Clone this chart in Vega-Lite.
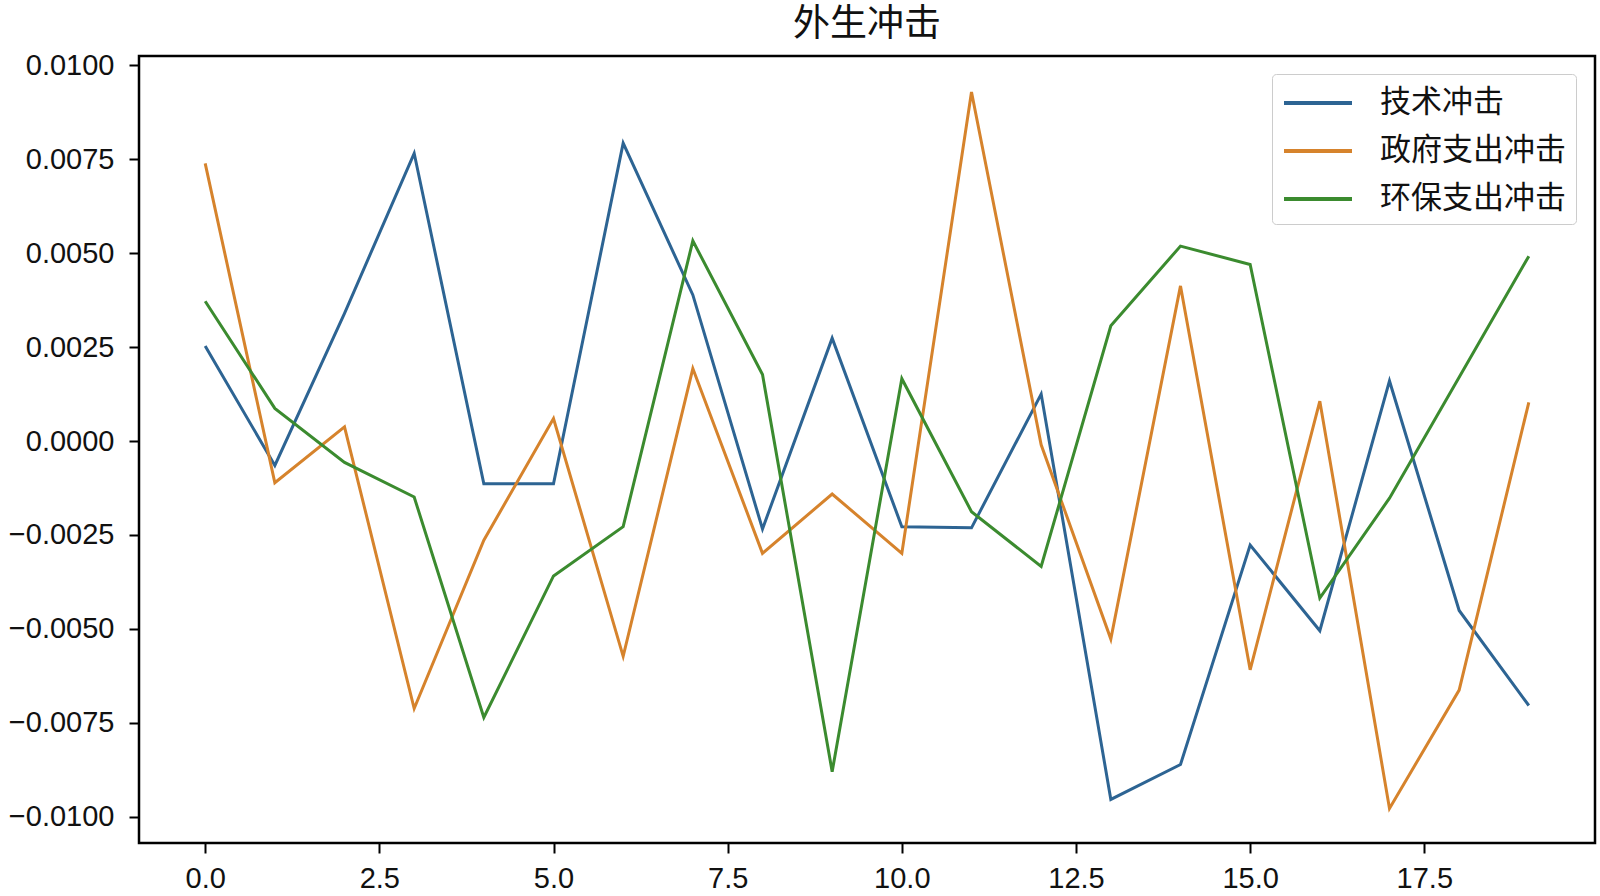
{
  "$schema": "https://vega.github.io/schema/vega-lite/v6.json",
  "autosize": {"type": "none"},
  "width": 1456,
  "height": 787,
  "padding": {"left": 139, "top": 56, "right": 5, "bottom": 53},
  "background": "white",
  "title": {"text": "外生冲击", "font": "Noto Sans CJK SC", "fontSize": 37, "fontWeight": "normal", "color": "#111", "anchor": "middle", "offset": 7},
  "config": {
    "view": {"stroke": "black", "strokeWidth": 2.5},
    "axis": {"domain": false, "grid": false, "tickColor": "black", "tickWidth": 2, "tickSize": 10, "labelColor": "#111", "labelFont": "Liberation Sans", "title": null}
  },
  "data": {"values": [
    {"t": 0, "series": "技术冲击", "value": 0.00253},
    {"t": 1, "series": "技术冲击", "value": -0.00065},
    {"t": 2, "series": "技术冲击", "value": 0.0034},
    {"t": 3, "series": "技术冲击", "value": 0.00766},
    {"t": 4, "series": "技术冲击", "value": -0.00114},
    {"t": 5, "series": "技术冲击", "value": -0.00114},
    {"t": 6, "series": "技术冲击", "value": 0.00793},
    {"t": 7, "series": "技术冲击", "value": 0.00389},
    {"t": 8, "series": "技术冲击", "value": -0.00234},
    {"t": 9, "series": "技术冲击", "value": 0.00274},
    {"t": 10, "series": "技术冲击", "value": -0.00228},
    {"t": 11, "series": "技术冲击", "value": -0.00231},
    {"t": 12, "series": "技术冲击", "value": 0.00125},
    {"t": 13, "series": "技术冲击", "value": -0.00954},
    {"t": 14, "series": "技术冲击", "value": -0.00861},
    {"t": 15, "series": "技术冲击", "value": -0.00277},
    {"t": 16, "series": "技术冲击", "value": -0.00505},
    {"t": 17, "series": "技术冲击", "value": 0.0016},
    {"t": 18, "series": "技术冲击", "value": -0.00451},
    {"t": 19, "series": "技术冲击", "value": -0.00704},
    {"t": 0, "series": "政府支出冲击", "value": 0.00739},
    {"t": 1, "series": "政府支出冲击", "value": -0.00111},
    {"t": 2, "series": "政府支出冲击", "value": 0.00038},
    {"t": 3, "series": "政府支出冲击", "value": -0.00712},
    {"t": 4, "series": "政府支出冲击", "value": -0.00264},
    {"t": 5, "series": "政府支出冲击", "value": 0.0006},
    {"t": 6, "series": "政府支出冲击", "value": -0.00573},
    {"t": 7, "series": "政府支出冲击", "value": 0.00193},
    {"t": 8, "series": "政府支出冲击", "value": -0.00299},
    {"t": 9, "series": "政府支出冲击", "value": -0.00141},
    {"t": 10, "series": "政府支出冲击", "value": -0.00299},
    {"t": 11, "series": "政府支出冲击", "value": 0.00929},
    {"t": 12, "series": "政府支出冲击", "value": -0.0001},
    {"t": 13, "series": "政府支出冲击", "value": -0.00527},
    {"t": 14, "series": "政府支出冲击", "value": 0.00413},
    {"t": 15, "series": "政府支出冲击", "value": -0.00609},
    {"t": 16, "series": "政府支出冲击", "value": 0.00106},
    {"t": 17, "series": "政府支出冲击", "value": -0.00978},
    {"t": 18, "series": "政府支出冲击", "value": -0.00663},
    {"t": 19, "series": "政府支出冲击", "value": 0.00103},
    {"t": 0, "series": "环保支出冲击", "value": 0.00372},
    {"t": 1, "series": "环保支出冲击", "value": 0.00087},
    {"t": 2, "series": "环保支出冲击", "value": -0.00057},
    {"t": 3, "series": "环保支出冲击", "value": -0.00149},
    {"t": 4, "series": "环保支出冲击", "value": -0.00736},
    {"t": 5, "series": "环保支出冲击", "value": -0.00359},
    {"t": 6, "series": "环保支出冲击", "value": -0.00228},
    {"t": 7, "series": "环保支出冲击", "value": 0.00533},
    {"t": 8, "series": "环保支出冲击", "value": 0.00177},
    {"t": 9, "series": "环保支出冲击", "value": -0.0088},
    {"t": 10, "series": "环保支出冲击", "value": 0.00166},
    {"t": 11, "series": "环保支出冲击", "value": -0.00188},
    {"t": 12, "series": "环保支出冲击", "value": -0.00334},
    {"t": 13, "series": "环保支出冲击", "value": 0.00307},
    {"t": 14, "series": "环保支出冲击", "value": 0.00519},
    {"t": 15, "series": "环保支出冲击", "value": 0.0047},
    {"t": 16, "series": "环保支出冲击", "value": -0.00418},
    {"t": 17, "series": "环保支出冲击", "value": -0.00152},
    {"t": 18, "series": "环保支出冲击", "value": 0.0017},
    {"t": 19, "series": "环保支出冲击", "value": 0.00492}
  ]},
  "mark": {"type": "line", "strokeWidth": 3, "clip": true},
  "encoding": {
    "x": {"field": "t", "type": "quantitative",
      "scale": {"domain": [-0.95, 19.95], "nice": false, "zero": false},
      "axis": {"values": [0, 2.5, 5, 7.5, 10, 12.5, 15, 17.5], "format": ".1f", "labelFontSize": 29, "labelPadding": 11}},
    "y": {"field": "value", "type": "quantitative",
      "scale": {"domain": [-0.0107, 0.01025], "nice": false, "zero": false},
      "axis": {"values": [-0.01, -0.0075, -0.005, -0.0025, 0, 0.0025, 0.005, 0.0075, 0.01], "format": ".4f", "labelFontSize": 29, "labelPadding": 15}},
    "color": {"field": "series", "type": "nominal",
      "scale": {"domain": ["技术冲击", "政府支出冲击", "环保支出冲击"], "range": ["#2d6493", "#d6832c", "#3b8b2f"]},
      "legend": {"title": null, "orient": "none", "legendX": 1133, "legendY": 18,
        "symbolType": "M-1,0H3", "symbolSize": 1156, "symbolStrokeWidth": 4, "symbolFillColor": "transparent",
        "labelFont": "Noto Sans CJK SC", "labelFontSize": 31, "labelColor": "#111", "labelOffset": 60,
        "strokeColor": "#cccccc", "fillColor": "white", "cornerRadius": 4, "padding": 10, "rowPadding": 14, "labelLimit": 400}}
  }
}
